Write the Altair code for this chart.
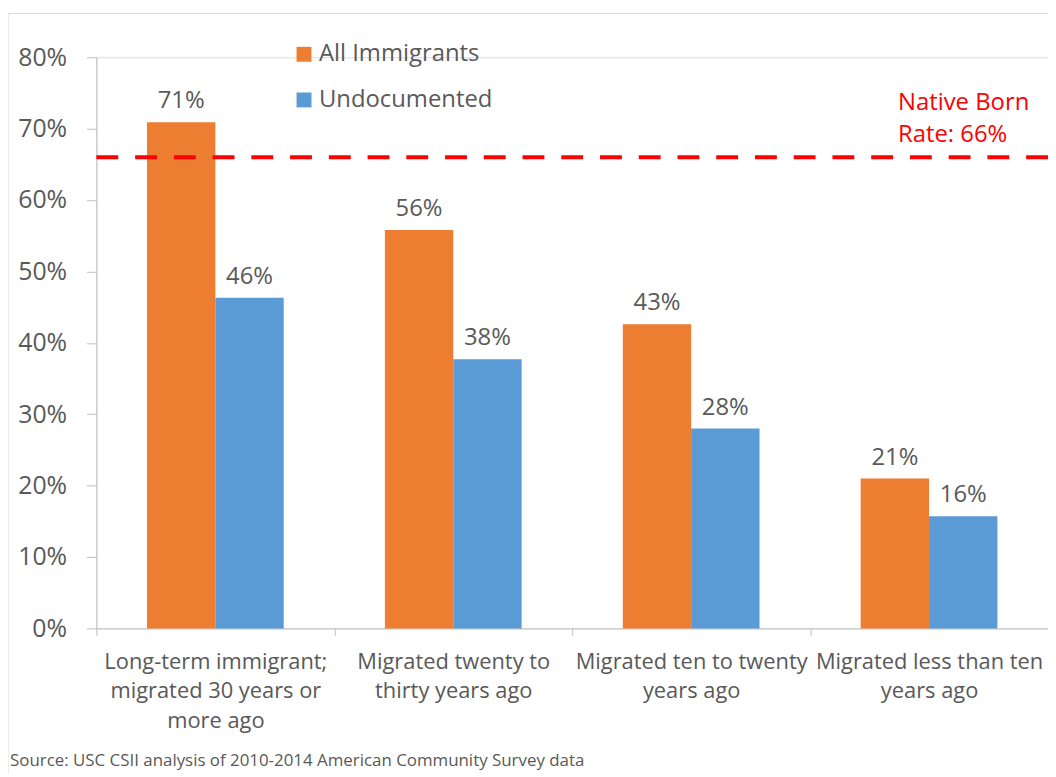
import altair as alt
import pandas as pd

categories = [
    "Long-term immigrant;|migrated 30 years or|more ago",
    "Migrated twenty to|thirty years ago",
    "Migrated ten to twenty|years ago",
    "Migrated less than ten|years ago",
]
series = ["All Immigrants", "Undocumented"]
all_immigrants = [0.709, 0.558, 0.426, 0.210]
undocumented = [0.463, 0.377, 0.280, 0.157]
native_born_rate = 0.66
native_label = ["Native Born", "Rate: 66%"]
source_text = "Source: USC CSII analysis of 2010-2014 American Community Survey data"
colors = ["#ED7D31", "#5B9BD5"]

rows = []
for c, a, u in zip(categories, all_immigrants, undocumented):
    rows.append({"cat": c, "series": series[0], "value": a})
    rows.append({"cat": c, "series": series[1], "value": u})
df = pd.DataFrame(rows)

FONT = "Open Sans"
TXT = "#595959"
AX = "#BFBFBF"

base = alt.Chart(df)

x_enc = alt.X(
    "cat:N",
    sort=categories,
    scale=alt.Scale(paddingInner=0, paddingOuter=0),
    axis=alt.Axis(
        title="",
        labelExpr="split(datum.label, '|')",
        labelFontSize=22,
        labelColor=TXT,
        labelFont=FONT,
        labelLineHeight=30,
        labelAngle=0,
        labelBaseline="top",
        labelPadding=16,
        labelLimit=400,
        labelOverlap=False,
        labelFlush=False,
        tickBand="extent",
        tickSize=7,
        tickColor=AX,
        domainColor=AX,
        grid=False,
    ),
)
xoff = alt.XOffset(
    "series:N", sort=series, scale=alt.Scale(paddingOuter=0.74, paddingInner=0)
)
y_enc = alt.Y(
    "value:Q",
    scale=alt.Scale(domain=[0, 0.8], nice=False),
    axis=alt.Axis(
        title="",
        format=".0%",
        values=[0, 0.1, 0.2, 0.3, 0.4, 0.5, 0.6, 0.7, 0.8],
        labelFontSize=25,
        labelColor=TXT,
        labelFont=FONT,
        labelPadding=20,
        tickSize=10,
        tickColor=AX,
        domainColor=AX,
        grid=False,
    ),
)

bars = base.mark_bar().encode(
    x=x_enc,
    xOffset=xoff,
    y=y_enc,
    color=alt.Color(
        "series:N",
        sort=series,
        scale=alt.Scale(domain=series, range=colors),
        legend=alt.Legend(
            title="",
            orient="none",
            legendX=197,
            legendY=-15,
            symbolType="square",
            symbolSize=225,
            symbolStrokeWidth=0,
            labelFontSize=24,
            labelFont=FONT,
            labelColor=TXT,
            labelOffset=3,
            labelLimit=400,
            rowPadding=22,
            padding=0,
        ),
    ),
)

labels = base.mark_text(
    dy=-14, baseline="alphabetic", fontSize=24, font=FONT, color=TXT
).encode(
    x=alt.X("cat:N", sort=categories),
    xOffset=alt.XOffset("series:N", sort=series),
    y="value:Q",
    text=alt.Text("value:Q", format=".0%"),
)

ref_df = pd.DataFrame({"y": [native_born_rate]})
rule = alt.Chart(ref_df).mark_rule(
    color="#FF0000", strokeWidth=4, strokeDash=[22, 17]
).encode(y="y:Q")

ann_df = pd.DataFrame({"y": [native_born_rate], "t": [native_label]})
ann = alt.Chart(ann_df).mark_text(
    align="left", baseline="alphabetic", fontSize=24, font=FONT,
    color="#FF0000", lineHeight=33, dy=-48,
).encode(x=alt.value(807), y="y:Q", text="t")

src_df = pd.DataFrame({"t": [source_text]})
src = alt.Chart(src_df).mark_text(
    align="left", baseline="alphabetic", fontSize=17, font=FONT, color=TXT
).encode(x=alt.value(-87), y=alt.value(714), text="t:N")

frame_df = pd.DataFrame({"a": [1]})
frame = alt.Chart(frame_df).mark_rect(
    fillOpacity=0, stroke="#D9D9D9", strokeWidth=1
).encode(
    x=alt.value(-89), x2=alt.value(3000), y=alt.value(-44), y2=alt.value(3000)
)

chart = alt.layer(frame, bars, labels, rule, ann, src).properties(
    width=958,
    height=575,
    autosize=alt.AutoSizeParams(type="none"),
    padding={"left": 89, "top": 47, "right": 0, "bottom": 144},
).configure_view(strokeWidth=0).configure(font=FONT)

chart.save("out.html", embed_options={"renderer": "svg", "actions": False})
